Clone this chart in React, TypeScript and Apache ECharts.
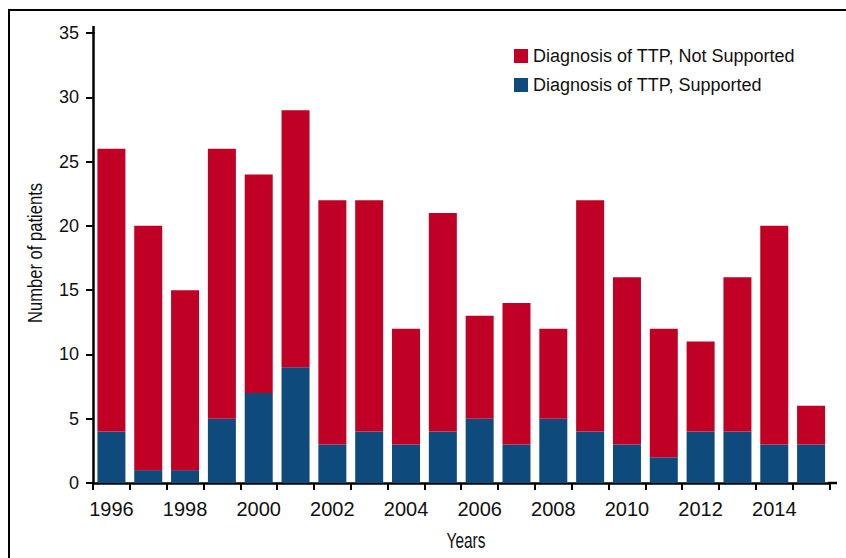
import React, { useEffect, useRef } from "react";
import * as echarts from "echarts";

const years = ["1996","1997","1998","1999","2000","2001","2002","2003","2004","2005","2006","2007","2008","2009","2010","2011","2012","2013","2014","2015"];
const supported = [4, 1, 1, 5, 7, 9, 3, 4, 3, 4, 5, 3, 5, 4, 3, 2, 4, 4, 3, 3];
const notSupported = [22, 19, 14, 21, 17, 20, 19, 18, 9, 17, 8, 11, 7, 18, 13, 10, 7, 12, 17, 3];
const yTicks = { min: 0, max: 35, interval: 5 };
const xTitle = "Years";
const yTitle = "Number of patients";

const RED = "#C00025";
const BLUE = "#0E4A7C";
const TXT = "#111111";
const FONT = "Liberation Sans, Arial, Helvetica, sans-serif";

export default function App() {
  const ref = useRef<HTMLDivElement>(null);
  useEffect(() => {
    const chart = echarts.init(ref.current!, null, { renderer: "svg" });
    chart.setOption({
      animation: false,
      backgroundColor: "#ffffff",
      textStyle: { fontFamily: FONT },
      grid: { left: 93, right: 16.5, top: 33, bottom: 75, containLabel: false },
      legend: {
        orient: "vertical",
        left: 509,
        top: 42,
        itemWidth: 14,
        itemHeight: 14,
        itemGap: 11,
        icon: "rect",
        textStyle: { fontSize: 18, color: TXT, fontFamily: FONT },
        data: ["Diagnosis of TTP, Not Supported", "Diagnosis of TTP, Supported"],
      },
      xAxis: {
        type: "category",
        data: years,
        axisLine: { lineStyle: { color: "#000", width: 2.5 } },
        axisTick: { show: true, interval: 0, length: 7, lineStyle: { color: "#000", width: 2 } },
        axisLabel: { interval: 1, fontSize: 20, color: TXT, margin: 16 },
      },
      yAxis: {
        type: "value",
        min: yTicks.min,
        max: yTicks.max,
        interval: yTicks.interval,
        axisLine: { show: true, lineStyle: { color: "#000", width: 2.5 } },
        axisTick: { show: true, length: 7, lineStyle: { color: "#000", width: 2 } },
        axisLabel: { fontSize: 18, color: TXT, margin: 14 },
        splitLine: { show: false },
      },
      graphic: [
        { type: "line", shape: { x1: 9, y1: 9, x2: 9, y2: 558 }, style: { stroke: "#000", lineWidth: 2 } },
        { type: "line", shape: { x1: 8, y1: 10, x2: 846, y2: 10 }, style: { stroke: "#000", lineWidth: 2 } },
        { type: "line", shape: { x1: 93.5, y1: 26, x2: 93.5, y2: 34 }, style: { stroke: "#000", lineWidth: 2.5 } },
        { type: "line", shape: { x1: 828, y1: 483, x2: 837, y2: 483 }, style: { stroke: "#000", lineWidth: 2.5 } },
        {
          type: "text",
          x: 466,
          y: 540,
          scaleX: 0.7,
          style: { text: xTitle, fontSize: 22, fill: TXT, fontFamily: FONT, align: "center", verticalAlign: "middle" },
        },
        {
          type: "text",
          x: 35,
          y: 253,
          rotation: Math.PI / 2,
          scaleX: 0.79,
          style: { text: yTitle, fontSize: 21, fill: TXT, fontFamily: FONT, align: "center", verticalAlign: "middle" },
        },
      ],
      series: [
        {
          name: "Diagnosis of TTP, Supported",
          type: "bar",
          stack: "total",
          data: supported,
          barWidth: 28,
          itemStyle: { color: BLUE },
        },
        {
          name: "Diagnosis of TTP, Not Supported",
          type: "bar",
          stack: "total",
          data: notSupported,
          barWidth: 28,
          itemStyle: { color: RED },
        },
      ],
    });
    return () => chart.dispose();
  }, []);
  return <div ref={ref} style={{ position: "absolute", left: 0, top: 0, width: 846, height: 558 }} />;
}
